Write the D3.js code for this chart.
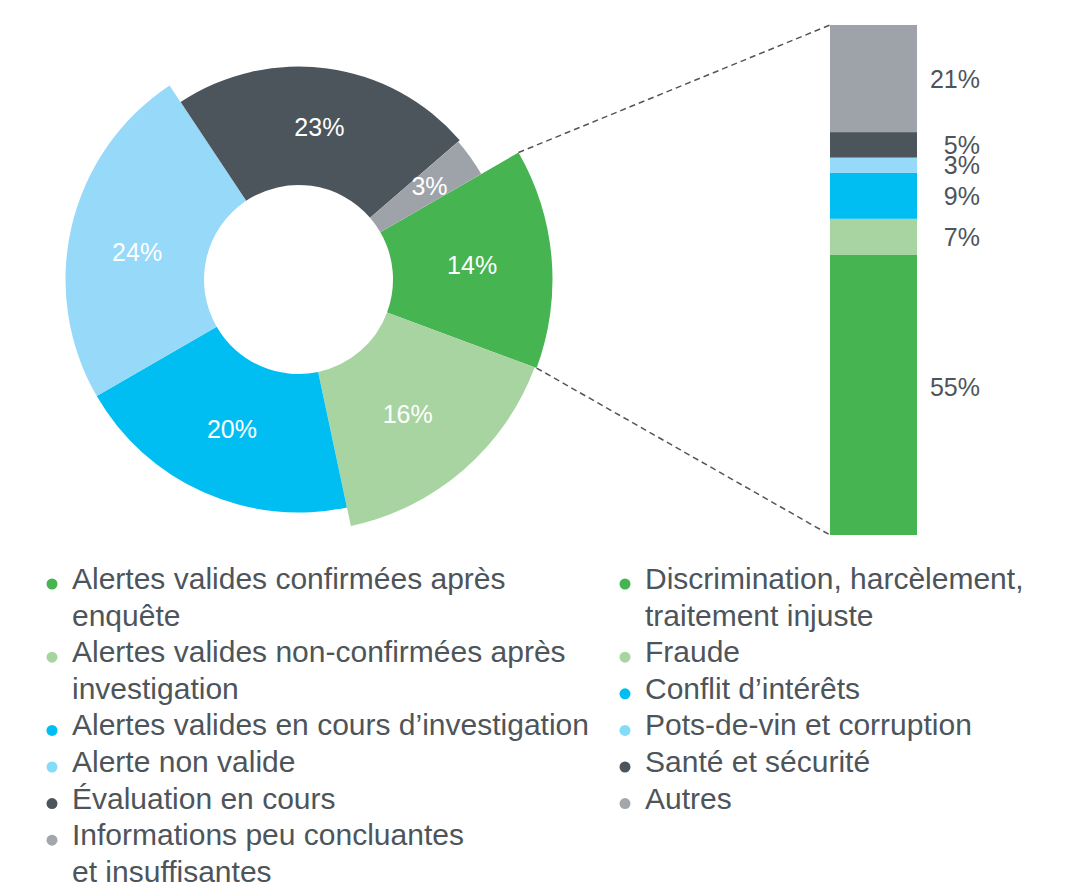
<!DOCTYPE html>
<html>
<head>
<meta charset="utf-8">
<script src="https://cdn.jsdelivr.net/npm/d3@7"></script>
<style>
  body { margin: 0; background: #fff; }
  text { font-family: "Liberation Sans", Arial, sans-serif; }
</style>
</head>
<body>
<figure id="chart" style="margin:0"></figure>
<script>
// donut : statut des alertes
const statusLabels = [
  'Alertes valides confirmées après\nenquête',
  'Alertes valides non-confirmées après\ninvestigation',
  'Alertes valides en cours d’investigation',
  'Alerte non valide',
  'Évaluation en cours',
  'Informations peu concluantes\net insuffisantes',
];
const statusValues = [14, 16, 20, 24, 23, 3];

// barre : type d'alertes confirmées
const typeLabels = [
  'Discrimination, harcèlement,\ntraitement injuste',
  'Fraude',
  'Conflit d’intérêts',
  'Pots-de-vin et corruption',
  'Santé et sécurité',
  'Autres',
];
const typeValues = [55, 7, 9, 3, 5, 21];

const colors = ['#46b450', '#a8d4a1', '#00bef2', '#96d9f8', '#4d555c', '#9ea3a9'];
const sliceRadius = [254, 252, 233, 233, 213, 211];
const legendColors = ['#46b450', '#a8d4a1', '#00bef2', '#85dcf8', '#4d555c', '#a3a7ab'];

const width = 1072;
const height = 885;
const textColor = '#4d555b';

const svg = d3
  .select('figure#chart')
  .append('svg')
  .attr('width', width)
  .attr('height', height);

// Donut
const cx = 298.5, cy = 279.5, innerR = 94.5;
const start = (60 * Math.PI) / 180;
const pie = d3.pie().sort(null).startAngle(start).endAngle(start + 2 * Math.PI);
const arcs = pie(statusValues);

const arc = d3
  .arc()
  .innerRadius(innerR)
  .outerRadius((d) => sliceRadius[d.index]);

const donut = svg.append('g').attr('transform', 'translate(' + cx + ',' + cy + ')');

donut
  .selectAll('path')
  .data(arcs)
  .join('path')
  .attr('d', arc)
  .attr('fill', (d) => colors[d.index]);

// small angle nudges so labels sit where the original put them
const labelShift = [0, 0.03, 0, -0.06, 0, 0];
donut
  .selectAll('text')
  .data(arcs)
  .join('text')
  .attr('transform', (d) => {
    const r = (innerR + sliceRadius[d.index]) / 2 + (d.index === 5 ? 8 : 0);
    const p = d3.pointRadial((d.startAngle + d.endAngle) / 2 + labelShift[d.index], r);
    return 'translate(' + p[0] + ',' + p[1] + ')';
  })
  .attr('text-anchor', 'middle')
  .attr('dy', '0.36em')
  .attr('fill', '#fff')
  .attr('font-size', 25)
  .text((d) => d.data + '%');

// Stacked bar
const barX = 830, barW = 87;
const y = d3.scaleLinear().domain([0, 100]).range([535, 25]);
const tops = d3.cumsum(typeValues);

const bar = svg.append('g');
bar
  .selectAll('rect')
  .data(typeValues)
  .join('rect')
  .attr('x', barX)
  .attr('width', barW)
  .attr('y', (d, i) => y(tops[i]))
  .attr('height', (d, i) => y(tops[i] - d) - y(tops[i]))
  .attr('fill', (d, i) => colors[i]);

bar
  .selectAll('text')
  .data(typeValues)
  .join('text')
  .attr('x', 980)
  .attr('y', (d, i) => y(tops[i] - d / 2) - (i === 0 ? 8 : 0))
  .attr('dy', '0.36em')
  .attr('text-anchor', 'end')
  .attr('fill', textColor)
  .attr('font-size', 25)
  .text((d) => d + '%');

// dashed connectors from the green slice to the bar
const green = arcs[0];
const p0 = d3.pointRadial(green.startAngle, sliceRadius[0]);
const p1 = d3.pointRadial(green.endAngle, sliceRadius[0]);
svg
  .selectAll('line.link')
  .data([
    [p0, y(100)],
    [p1, y(0)],
  ])
  .join('line')
  .attr('class', 'link')
  .attr('x1', (d) => cx + d[0][0])
  .attr('y1', (d) => cy + d[0][1])
  .attr('x2', barX)
  .attr('y2', (d) => d[1])
  .attr('stroke', '#555')
  .attr('stroke-width', 1.5)
  .attr('stroke-dasharray', '6,4');

// Legends
const lineH = 36.6;
function legend(labels, x0, y0) {
  const g = svg.append('g');
  let row = 0;
  labels.forEach((label, i) => {
    const lines = label.split('\n');
    const by = y0 + row * lineH;
    g.append('circle')
      .attr('cx', x0)
      .attr('cy', by - 5)
      .attr('r', 5.5)
      .attr('fill', legendColors[i]);
    const t = g
      .append('text')
      .attr('x', x0 + 20)
      .attr('y', by)
      .attr('fill', textColor)
      .attr('font-size', 30);
    lines.forEach((l, j) => {
      t.append('tspan')
        .attr('x', x0 + 20)
        .attr('dy', j === 0 ? 0 : lineH)
        .text(l);
    });
    row += lines.length;
  });
}
legend(statusLabels, 52, 589);
legend(typeLabels, 625, 589);
</script>
</body>
</html>
